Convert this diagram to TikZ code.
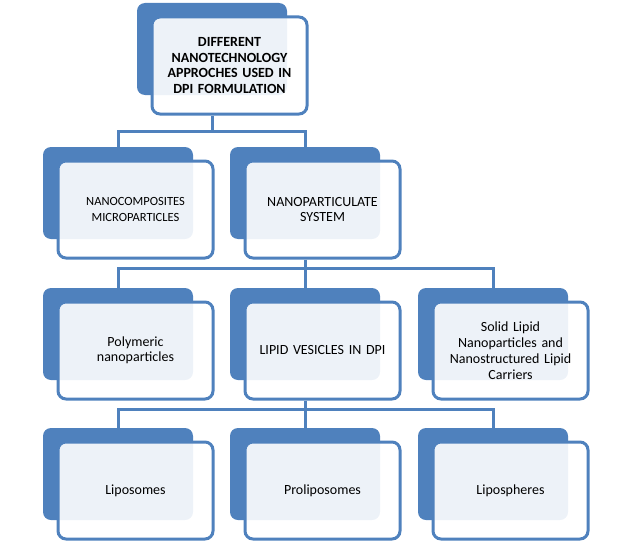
\documentclass[tikz,border=0pt]{standalone}
\usepackage{fontspec}
\setmainfont{Carlito}[WordSpace=0.8]
\usetikzlibrary{positioning}
\definecolor{officeblue}{RGB}{79,129,189}
\tikzset{
    backbox/.style={fill=officeblue, rounded corners=8pt, minimum width=150pt, minimum height=92pt, inner sep=0pt},
    frontbox/.style={draw=officeblue, line width=3pt, fill=white, fill opacity=0.9, text opacity=1,
        rounded corners=8pt, minimum width=155pt, minimum height=97pt, inner sep=0pt,
        text width=145pt, align=center, font=\fontsize{14}{15.5}\selectfont},
    link/.style={draw=officeblue, line width=3pt}
}

\begin{document}
\begin{tikzpicture}[x=1pt,y=-1pt]
    \useasboundingbox (0,0) rectangle (626,543);
    % top
    \node[backbox] (b0) at (212,49) {};
    \node[frontbox] (f0) at ([shift={(17.5,16.5)}]b0.center) {\bfseries DIFFERENT\\NANOTECHNOLOGY\\APPROCHES USED IN\\DPI FORMULATION};
    % second row
    \node[backbox] (b1) at (118,193) {};
    \node[frontbox] (f1) at ([shift={(17.5,16.5)}]b1.center) {\fontsize{12.5}{14}\selectfont NANOCOMPOSITES\\MICROPARTICLES};
    \node[backbox] (b2) at (305,193) {};
    \node[frontbox] (f2) at ([shift={(17.5,16.5)}]b2.center) {NANOPARTICULATE\\SYSTEM};
    % third row
    \node[backbox] (b3) at (118,334) {};
    \node[frontbox] (f3) at ([shift={(17.5,16.5)}]b3.center) {Polymeric\\nanoparticles};
    \node[backbox] (b4) at (305,334) {};
    \node[frontbox] (f4) at ([shift={(17.5,16.5)}]b4.center) {LIPID VESICLES IN DPI};
    \node[backbox] (b5) at (493,334) {};
    \node[frontbox, font=\fontsize{14}{16}\selectfont] (f5) at ([shift={(17.5,16.5)}]b5.center) {Solid Lipid\\Nanoparticles and\\Nanostructured Lipid\\Carriers};
    % fourth row
    \node[backbox] (b6) at (118,474) {};
    \node[frontbox] (f6) at ([shift={(17.5,16.5)}]b6.center) {Liposomes};
    \node[backbox] (b7) at (305,474) {};
    \node[frontbox] (f7) at ([shift={(17.5,16.5)}]b7.center) {Proliposomes};
    \node[backbox] (b8) at (493,474) {};
    \node[frontbox] (f8) at ([shift={(17.5,16.5)}]b8.center) {Lipospheres};

    % bars
    \coordinate (bar1) at (0,131);
    \coordinate (bar2) at (0,268);
    \coordinate (bar3) at (0,409);
    \draw[link] (b0.center |- f0.south) -- (b0.center |- bar1);
    \draw[link] (b1.north) -- (b1.north |- bar1) -- (b2.north |- bar1) -- (b2.north);
    \draw[link] (b2.center |- f2.south) -- (b2.center |- bar2);
    \draw[link] (b3.north) -- (b3.north |- bar2) -- (b5.north |- bar2) -- (b5.north);
    \draw[link] (b4.north) -- (b4.north |- bar2);
    \draw[link] (b4.center |- f4.south) -- (b4.center |- bar3);
    \draw[link] (b6.north) -- (b6.north |- bar3) -- (b8.north |- bar3) -- (b8.north);
    \draw[link] (b7.north) -- (b7.north |- bar3);
\end{tikzpicture}
\end{document}
